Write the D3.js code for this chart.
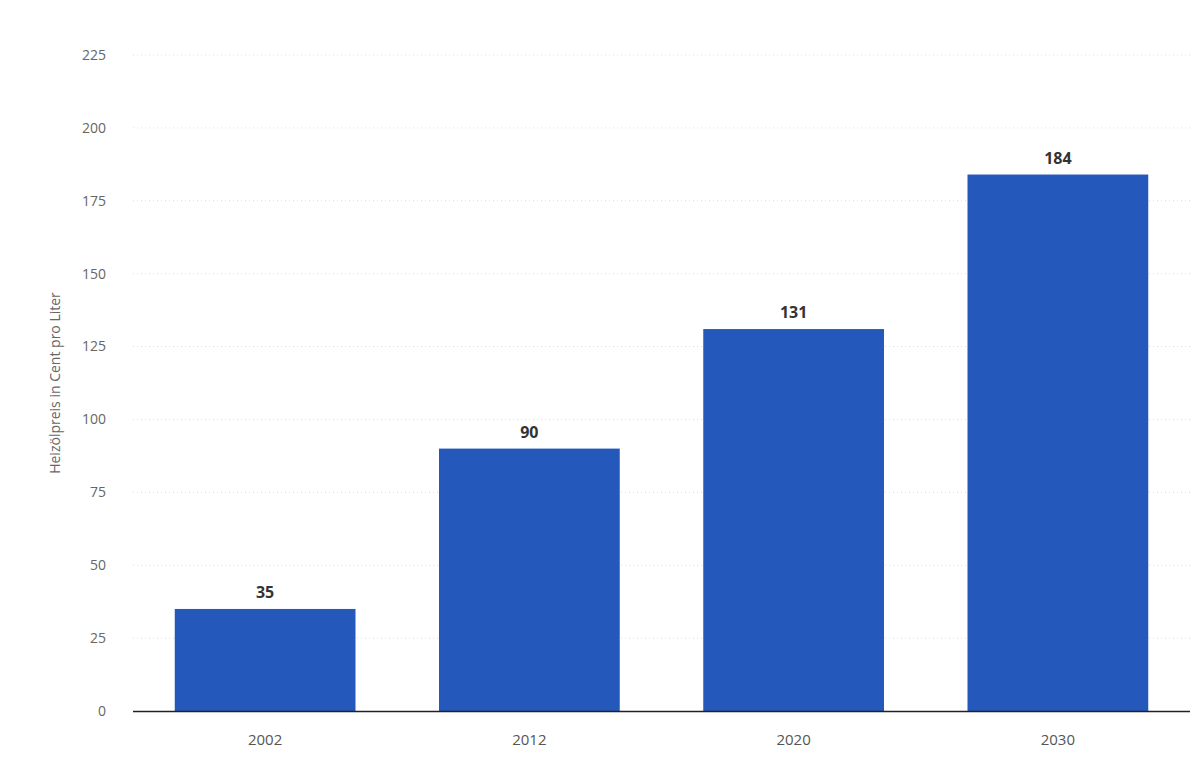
<!DOCTYPE html>
<html><head><meta charset="utf-8">
<script src="https://cdn.jsdelivr.net/npm/d3@7"></script>
<style>body{margin:0;background:#fff;font-family:"Open Sans",Roboto,sans-serif}</style>
</head><body><svg id="c" width="1200" height="775"></svg>
<script>
const categories=["2002","2012","2020","2030"];
const values=[35,90,131,184];
const yTicks=[0,25,50,75,100,125,150,175,200,225];
const yTitle="Heizölpreis in Cent pro Liter";

const svg=d3.select("#c");
const m={l:133,r:10,t:55,b:64};
const W=1200,H=775;
const x=d3.scaleBand().domain(categories).range([m.l,W-m.r]).paddingInner(0.316).paddingOuter(0.158);
const y=d3.scaleLinear().domain([0,225]).range([H-m.b,m.t]);

svg.append("g").selectAll("line").data(yTicks.filter(d=>d>0)).join("line")
 .attr("x1",m.l).attr("x2",W-m.r).attr("y1",d=>y(d)).attr("y2",d=>y(d))
 .attr("stroke","#ddd").attr("stroke-dasharray","1,3");
svg.append("g").selectAll("text").data(yTicks).join("text")
 .attr("x",106).attr("y",d=>y(d)).attr("dy","0.35em").attr("text-anchor","end")
 .attr("font-size",14).attr("fill","#666").text(d=>d);
svg.append("g").selectAll("rect").data(values).join("rect")
 .attr("x",(d,i)=>x(categories[i])).attr("width",x.bandwidth())
 .attr("y",d=>y(d)).attr("height",d=>y(0)-y(d)).attr("fill","#2458bb");
svg.append("g").selectAll("text").data(values).join("text")
 .attr("x",(d,i)=>x(categories[i])+x.bandwidth()/2).attr("y",d=>y(d)-11)
 .attr("text-anchor","middle").attr("font-size",16).attr("font-weight","bold").attr("fill","#333").text(d=>d);
svg.append("line").attr("x1",m.l).attr("x2",W-m.r).attr("y1",y(0)+0.5).attr("y2",y(0)+0.5).attr("stroke","#222").attr("stroke-width",1.5);
svg.append("g").selectAll("text").data(categories).join("text")
 .attr("x",d=>x(d)+x.bandwidth()/2).attr("y",745).attr("text-anchor","middle")
 .attr("font-size",15).attr("fill","#555").text(d=>d);
svg.append("text").attr("transform","translate(60,383) rotate(-90)").attr("text-anchor","middle")
 .attr("font-size",14).attr("fill","#666").text(yTitle);
</script></body></html>
